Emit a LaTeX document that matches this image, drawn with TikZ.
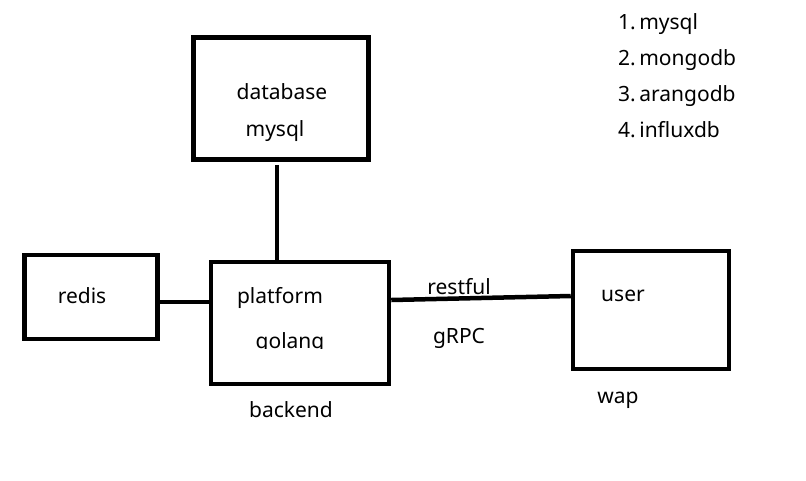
\documentclass[tikz,border=0pt]{standalone}
\usepackage{fontspec}
\setmainfont{Noto Sans}
\usetikzlibrary{calc}
\tikzset{
	box/.style={draw,line width=4.5pt,inner sep=0pt},
	lbl/.style={inner sep=0pt,anchor=base,font=\fontsize{21}{25}\selectfont},
	wire/.style={line width=4.5pt}
}
\def\golangclip{(240,320) rectangle (345,348.5)}

\begin{document}
\begin{tikzpicture}[x=1pt,y=-1pt]
			\useasboundingbox (0,0) rectangle (806,480);
			\node[box,minimum width=175pt,minimum height=122pt] (db) at (281,98.5) {};
			\node[box,minimum width=133pt,minimum height=84pt] (redis) at (91,297) {};
			\node[box,minimum width=178pt,minimum height=122pt] (plat) at (300,323) {};
			\node[box,minimum width=156pt,minimum height=118pt] (user) at (651,310) {};
			\coordinate (dbout) at ($(db.south)+(-4,3)$);
			\draw[wire] (dbout) -- (dbout |- plat.north);
			\draw[wire] ($(redis.east)+(0,5)$) -- ($(plat.west)+(0,-21)$);
			\draw[wire] ($(plat.east)+(0,-23)$) -- ($(user.west)+(0,-14)$);
			\node[lbl] (dbname) at (282,99) {database};
			\node[lbl] (dbkind) at (275,136) {mysql};
			\node[lbl] (redisname) at (82,303) {redis};
			\node[lbl] (platname) at (280,303) {platform};
			\begin{scope}
				\clip \golangclip;
				\node[lbl] (platlang) at (290,348) {golang};
			\end{scope}
			\node[lbl] (platside) at (291,417) {backend};
			\node[lbl] (rest) at (459,294) {restful};
			\node[lbl] (grpc) at (459,343) {gRPC};
			\node[lbl] (username) at (623,301) {user};
			\node[lbl] (userside) at (618,403) {wap};
			\foreach \n/\db in {1/mysql,2/mongodb,3/arangodb,4/influxdb}
				\node[lbl,anchor=base west] (list\n) at (618,{29+36*(\n-1)}) {\n.\,\db};
		\end{tikzpicture}
\end{document}
